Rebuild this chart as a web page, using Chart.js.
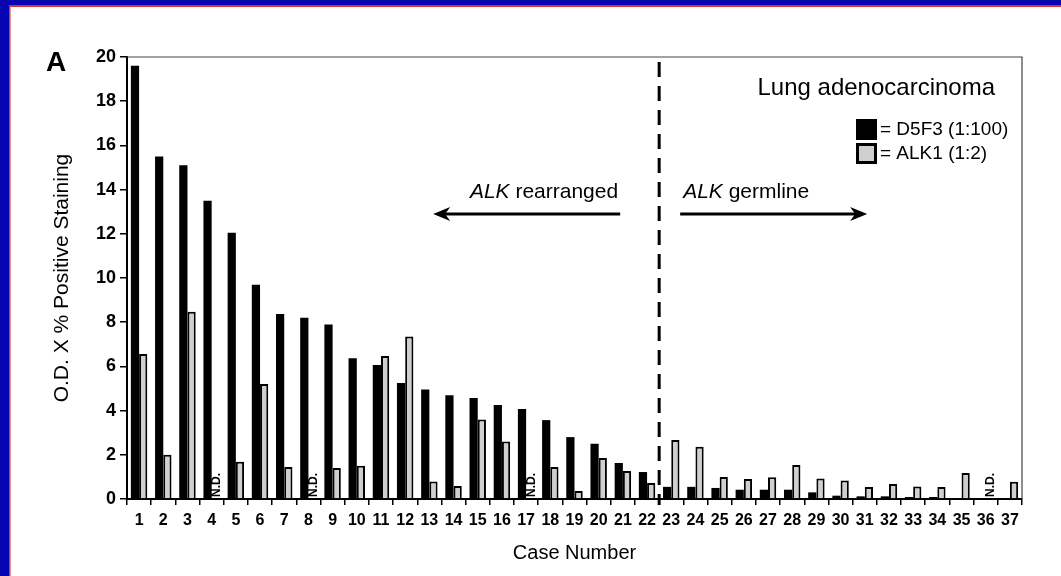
<!DOCTYPE html>
<html>
<head>
<meta charset="utf-8">
<script src="https://cdn.jsdelivr.net/npm/chart.js@4.4.0/dist/chart.umd.min.js"></script>
<style>
    html, body { margin: 0; padding: 0; background: #fff; }
    canvas { display: block; }
</style>
</head>
<body>
<canvas id="chart" width="1061" height="576"></canvas>
<script>
// data
const cases = ['1','2','3','4','5','6','7','8','9','10','11','12','13','14','15','16','17','18','19',
    '20','21','22','23','24','25','26','27','28','29','30','31','32','33','34','35','36','37'];
const d5f3 = [19.6, 15.5, 15.1, 13.5, 12.05, 9.7, 8.37, 8.2, 7.9, 6.37, 6.06, 5.25, 4.95, 4.7, 4.57, 4.25, 4.07, 3.57, 2.8,
    2.5, 1.63, 1.22, 0.55, 0.55, 0.5, 0.42, 0.42, 0.42, 0.3, 0.15, 0.12, 0.12, 0.09, 0.09, 0.03, 0.03, 0];
// null = N.D. (not done)
const alk1 = [6.56, 2.0, 8.47, null, 1.68, 5.2, 1.45, null, 1.4, 1.5, 6.47, 7.35, 0.79, 0.59, 3.6, 2.6, null, 1.45, 0.36,
    1.85, 1.27, 0.72, 2.67, 2.36, 1.0, 0.9, 0.98, 1.54, 0.93, 0.84, 0.54, 0.68, 0.57, 0.54, 1.18, null, 0.78];
const seriesNames = ['D5F3 (1:100)', 'ALK1 (1:2)'];
const seriesColors = ['#000000', '#cfcfcf'];
const yTicksMax = 20;
const yTicksStep = 2;
const dividerAfterCase = 22;
const panelLabel = 'A';
const chartTitle = 'Lung adenocarcinoma';
const yTitle = 'O.D. X % Positive Staining';
const xTitle = 'Case Number';
const leftNote = ['ALK', ' rearranged'];
const rightNote = ['ALK', ' germline'];
const notDone = 'N.D.';

const FONT = '"Liberation Sans", Arial, Helvetica, sans-serif';
Chart.defaults.font.family = FONT;
Chart.defaults.color = '#000';

function drawMixed(ctx, x, y, parts, size, align) {
    // first part italic, rest regular
    ctx.font = `italic ${size}px ${FONT}`;
    const w1 = ctx.measureText(parts[0]).width;
    ctx.font = `${size}px ${FONT}`;
    const w2 = ctx.measureText(parts[1]).width;
    let sx = align === 'right' ? x - w1 - w2 : x;
    ctx.textAlign = 'left';
    ctx.textBaseline = 'middle';
    ctx.font = `italic ${size}px ${FONT}`;
    ctx.fillText(parts[0], sx, y);
    ctx.font = `${size}px ${FONT}`;
    ctx.fillText(parts[1], sx + w1, y);
}

function drawArrow(ctx, x1, x2, y) {
    const dir = x2 > x1 ? 1 : -1;
    ctx.lineWidth = 3;
    ctx.strokeStyle = '#000';
    ctx.beginPath();
    ctx.moveTo(x1, y);
    ctx.lineTo(x2 - dir * 10, y);
    ctx.stroke();
    ctx.fillStyle = '#000';
    ctx.beginPath();
    ctx.moveTo(x2, y);
    ctx.lineTo(x2 - dir * 17, y - 7);
    ctx.lineTo(x2 - dir * 12, y);
    ctx.lineTo(x2 - dir * 17, y + 7);
    ctx.closePath();
    ctx.fill();
}

const decor = {
    id: 'decor',
    beforeDraw(chart) {
        const ctx = chart.ctx;
        ctx.save();
        ctx.fillStyle = '#fff';
        ctx.fillRect(0, 0, chart.width, chart.height);
        // page frame (top and left only)
        ctx.fillStyle = '#0606b0';
        ctx.fillRect(0, 0, chart.width, 5);
        ctx.fillRect(0, 0, 9, chart.height);
        ctx.fillStyle = '#d03838';
        ctx.fillRect(9, 5, chart.width - 9, 2);
        ctx.fillRect(9, 5, 1.5, chart.height - 5);
        ctx.restore();
    },
    afterDatasetsDraw(chart) {
        const {ctx, chartArea: a, scales: {x}} = chart;
        ctx.save();

        // top and right frame of the plot
        ctx.strokeStyle = '#444';
        ctx.lineWidth = 1.2;
        ctx.beginPath();
        ctx.moveTo(a.left, a.top);
        ctx.lineTo(a.right, a.top);
        ctx.lineTo(a.right, a.bottom);
        ctx.stroke();

        // divider between rearranged and germline cases
        const dx = (x.getPixelForValue(dividerAfterCase - 1) + x.getPixelForValue(dividerAfterCase)) / 2;
        ctx.strokeStyle = '#000';
        ctx.lineWidth = 3;
        ctx.setLineDash([15, 9]);
        ctx.beginPath();
        ctx.moveTo(dx, a.top + 5);
        ctx.lineTo(dx, a.bottom + 6);
        ctx.stroke();
        ctx.setLineDash([]);

        // N.D. marks
        const meta0 = chart.getDatasetMeta(0);
        ctx.fillStyle = '#000';
        ctx.font = `bold 12px ${FONT}`;
        alk1.forEach((v, i) => {
            if (v !== null) return;
            const el = meta0.data[i];
            const cx = el.x + el.width + 1;
            ctx.save();
            ctx.translate(cx, a.bottom - 2);
            ctx.rotate(-Math.PI / 2);
            ctx.textAlign = 'left';
            ctx.textBaseline = 'middle';
            ctx.fillText(notDone, 0, 0);
            ctx.restore();
        });

        // arrows and notes
        drawMixed(ctx, dx - 41, a.top + 135, leftNote, 21, 'right');
        drawMixed(ctx, dx + 24, a.top + 135, rightNote, 21, 'left');
        drawArrow(ctx, dx - 39, dx - 226, a.top + 157);
        drawArrow(ctx, dx + 21, dx + 208, a.top + 157);

        // title
        ctx.fillStyle = '#000';
        ctx.font = `24px ${FONT}`;
        ctx.textAlign = 'right';
        ctx.textBaseline = 'middle';
        ctx.fillText(chartTitle, a.right - 27, a.top + 31);

        // legend
        const lx = a.right - 166;
        seriesNames.forEach((name, i) => {
            const ly = a.top + 62 + i * 24;
            ctx.fillStyle = seriesColors[i];
            ctx.fillRect(lx, ly, 21, 21);
            if (i === 1) {
                ctx.strokeStyle = '#000';
                ctx.lineWidth = 3;
                ctx.strokeRect(lx + 1.5, ly + 1.5, 18, 18);
            }
            ctx.fillStyle = '#000';
            ctx.font = `19px ${FONT}`;
            ctx.textAlign = 'left';
            ctx.textBaseline = 'middle';
            ctx.fillText('= ' + name, lx + 24, ly + 11);
        });

        // panel label
        ctx.font = `bold 28px ${FONT}`;
        ctx.textAlign = 'left';
        ctx.fillText(panelLabel, 46, a.top + 6);
        ctx.restore();
    }
};

new Chart(document.getElementById('chart'), {
    type: 'bar',
    data: {
        labels: cases,
        datasets: [
            { label: seriesNames[0], data: d5f3, backgroundColor: seriesColors[0], borderWidth: 0 },
            { label: seriesNames[1], data: alk1, backgroundColor: seriesColors[1], borderColor: '#000', borderWidth: 2 }
        ]
    },
    options: {
        responsive: false,
        animation: false,
        devicePixelRatio: 1,
        categoryPercentage: 0.68,
        barPercentage: 1.0,
        layout: { padding: { left: 0, top: 57, right: 39, bottom: 0 } },
        plugins: { legend: { display: false }, tooltip: { enabled: false } },
        scales: {
            x: {
                grid: { drawOnChartArea: false, drawTicks: true, tickLength: 6, color: '#000', lineWidth: 1.5 },
                border: { display: true, color: '#000', width: 2 },
                ticks: { autoSkip: false, maxRotation: 0, padding: 6, font: { size: 16, weight: 'bold' } },
                title: { display: true, text: xTitle, font: { size: 20 }, padding: { top: 0, bottom: 11 } },
                afterFit(scale) { scale.height = 77; }
            },
            y: {
                min: 0,
                max: yTicksMax,
                grid: { drawOnChartArea: false, drawTicks: true, tickLength: 7, color: '#000', lineWidth: 1.5 },
                border: { display: true, color: '#000', width: 2 },
                ticks: { stepSize: yTicksStep, padding: 4, font: { size: 18, weight: 'bold' } },
                title: { display: true, text: yTitle, font: { size: 21 }, padding: { top: 50, bottom: 0 } },
                afterFit(scale) { scale.width = 127; }
            }
        }
    },
    plugins: [decor]
});
</script>
</body>
</html>
